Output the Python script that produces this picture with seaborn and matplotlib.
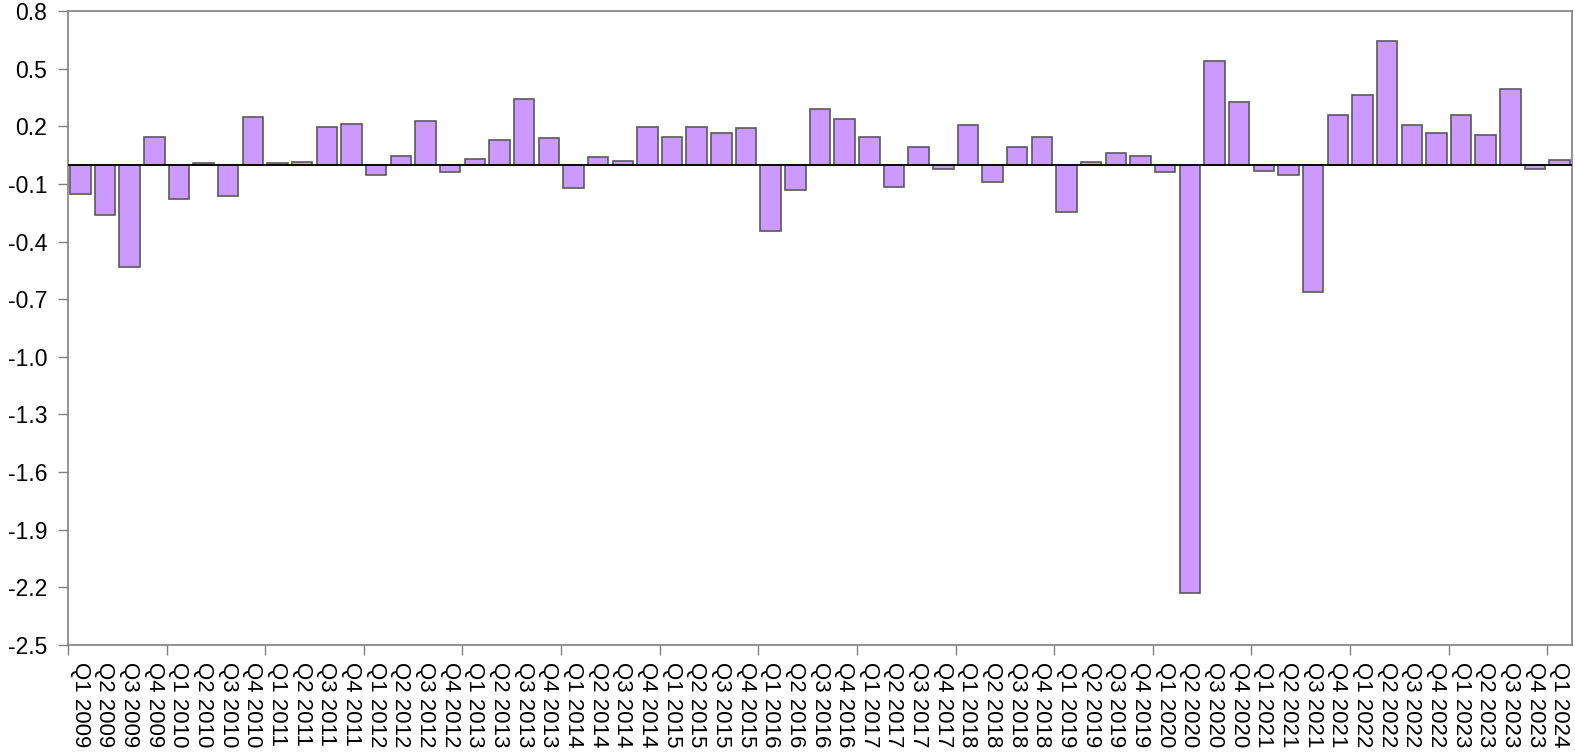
import matplotlib
matplotlib.use("Agg")
import matplotlib.pyplot as plt
import seaborn as sns
import numpy as np
import pandas as pd
from matplotlib.ticker import FixedLocator

years = list(range(2009, 2025))
quarters = ["Q1", "Q2", "Q3", "Q4"]
labels = [f"{q} {y}" for y in years for q in quarters][:61]

values = [
    -0.153, -0.260, -0.534, 0.144,
    -0.177, 0.007, -0.161, 0.250,
    0.007, 0.014, 0.198, 0.211,
    -0.054, 0.045, 0.227, -0.040,
    0.029, 0.128, 0.341, 0.137,
    -0.123, 0.038, 0.021, 0.198,
    0.144, 0.198, 0.166, 0.191,
    -0.343, -0.130, 0.289, 0.236,
    0.144, -0.114, 0.092, -0.024,
    0.205, -0.092, 0.092, 0.144,
    -0.244, 0.014, 0.061, 0.045,
    -0.040, -2.229, 0.539, 0.328,
    -0.031, -0.054, -0.664, 0.258,
    0.364, 0.646, 0.205, 0.166,
    0.258, 0.153, 0.395, -0.024,
    0.023,
]

yticks = [0.8, 0.5, 0.2, -0.1, -0.4, -0.7, -1.0, -1.3, -1.6, -1.9, -2.2, -2.5]

sns.set_theme(style="white")
plt.rcParams["font.family"] = ["Liberation Sans", "DejaVu Sans"]

df = pd.DataFrame({"period": labels, "value": values})

W, H = 1575, 756
left, right, top, bottom = 68, 1572, 11, 645
fig = plt.figure(figsize=(W / 100, H / 100), dpi=100)
ax = fig.add_axes([left / W, 1 - bottom / H, (right - left) / W, (bottom - top) / H])

sns.barplot(data=df, x="period", y="value", color="#CC99FF", saturation=1,
            edgecolor="#5a5a5a", linewidth=1.2, width=0.83, ax=ax, zorder=2)

ax.axhline(0, color="black", linewidth=1.3, zorder=3)
ax.set_xlim(-0.5, len(labels) - 0.5)
ax.set_ylim(-2.5, 0.8)
ax.set_yticks(yticks)
ax.set_yticklabels([f"{v:.1f}" for v in yticks], fontsize=16.5, color="black")
ax.set_xticks(range(len(labels)))
ax.set_xticklabels(labels, rotation=270, fontsize=16, color="black")
ax.tick_params(axis="x", which="major", length=0, pad=12)
ax.xaxis.set_minor_locator(FixedLocator(np.arange(-0.5, len(labels), 4)))
ax.tick_params(axis="x", which="minor", length=7, color="#808080", width=1, direction="out", bottom=True)
ax.tick_params(axis="y", which="major", length=7, color="#808080", width=1, direction="out", left=True, pad=8)
ax.set_xlabel("")
ax.set_ylabel("")
for s in ax.spines.values():
    s.set_color("#808080")
    s.set_linewidth(1.2)
    s.set_visible(True)
ax.grid(False)

fig.savefig("out.png", dpi=100)
